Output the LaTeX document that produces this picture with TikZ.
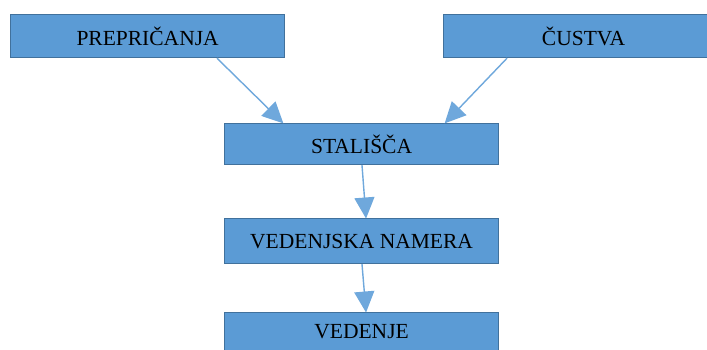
\documentclass[tikz,border=0pt]{standalone}
\usepackage{fontspec}
\setmainfont{Liberation Serif}
\usetikzlibrary{arrows.meta,calc}
\definecolor{boxfill}{HTML}{5B9BD5}
\definecolor{boxline}{HTML}{41719C}
\definecolor{arrowcol}{HTML}{6FA8DC}
\begin{document}
\begin{tikzpicture}[x=1pt,y=-1pt,
  box/.style={draw=boxline, line width=1.2pt, fill=boxfill, rectangle,
    anchor=north west, inner sep=0pt, minimum width=274pt,
    font=\fontsize{21.5}{25}\selectfont, text=black},
  link/.style={draw=arrowcol, line width=1.4pt,
    -{Triangle[length=21pt,width=20pt]}, shorten >=-0.5pt}]
\useasboundingbox (0,0) rectangle (707,349);
\clip (0,0) rectangle (707,349);
\fill[white] (0,0) rectangle (707,349);

\node[box, minimum height=43pt] (pre) at (10,14) {PREPRIČANJA};
\node[box, minimum height=43pt, minimum width=280pt] (cus) at (443,14) {ČUSTVA};
\node[box, minimum height=41pt] (sta) at (224,123) {STALIŠČA};
\node[box, minimum height=45pt] (nam) at (224,218) {VEDENJSKA NAMERA};
\node[box, minimum height=39pt] (ved) at (224,312) {VEDENJE};

\draw[link] ($(pre.south west)+(207,0)$) -- ($(sta.north west)+(59,0)$);
\draw[link] ($(cus.south west)+(64,0)$) -- ($(sta.north west)+(221,0)$);
\draw[link] ($(sta.south west)+(138,0)$) -- ($(nam.north west)+(142,0)$);
\draw[link] ($(nam.south west)+(138,0)$) -- ($(ved.north west)+(142,0)$);
\end{tikzpicture}
\end{document}
